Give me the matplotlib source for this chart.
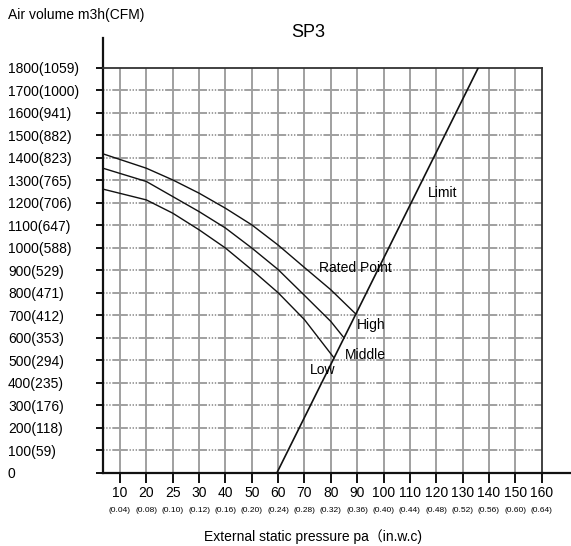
import numpy as np
import matplotlib
matplotlib.use('Agg')
import matplotlib.pyplot as plt
from matplotlib.scale import FuncScale
from matplotlib.transforms import blended_transform_factory

plt.rcParams['font.family'] = ['Liberation Sans', 'Noto Sans CJK SC', 'DejaVu Sans']
plt.rcParams['lines.scale_dashes'] = False

# ---- data ----
pa_ticks = [10, 20, 25, 30, 40, 50, 60, 70, 80, 90, 100, 110, 120, 130, 140, 150, 160]
inwc_labels = ['(0.04)', '(0.08)', '(0.10)', '(0.12)', '(0.16)', '(0.20)', '(0.24)', '(0.28)',
               '(0.32)', '(0.36)', '(0.40)', '(0.44)', '(0.48)', '(0.52)', '(0.56)', '(0.60)', '(0.64)']
flow_ticks = [0, 100, 200, 300, 400, 500, 600, 700, 800, 900, 1000, 1100, 1200, 1300, 1400,
              1500, 1600, 1700, 1800]
flow_labels = ['0', '100(59)', '200(118)', '300(176)', '400(235)', '500(294)', '600(353)',
               '700(412)', '800(471)', '900(529)', '1000(588)', '1100(647)', '1200(706)',
               '1300(765)', '1400(823)', '1500(882)', '1600(941)', '1700(1000)', '1800(1059)']

high_pa = [3.55, 20, 25, 30, 40, 50, 60, 70, 80, 89.5]
high_flow = [1418, 1354, 1302, 1243, 1176, 1102, 1012, 912, 813, 705]
middle_pa = [3.55, 20, 25, 30, 40, 50, 60, 70, 80, 85.0]
middle_flow = [1354, 1295, 1228, 1161, 1088, 999, 903, 788, 672, 599]
low_pa = [3.55, 20, 25, 30, 40, 50, 60, 70, 81.2]
low_flow = [1261, 1213, 1154, 1080, 999, 902, 800, 680, 510]
limit_pa = [59.6, 135.9]
limit_flow = [0, 1800]

# ---- scale: tick labels equally spaced ----
scale_pa = [0] + pa_ticks
scale_pos = list(range(len(scale_pa)))


def fwd(x):
    return np.interp(x, scale_pa, scale_pos)


def inv(x):
    return np.interp(x, scale_pos, scale_pa)


W, H = 571, 546
fig = plt.figure(figsize=(W / 100, H / 100), dpi=100)
x0, x1, y0, y1 = 103, 541.7, 68, 472.5
ax = fig.add_axes([x0 / W, 1 - y1 / H, (x1 - x0) / W, (y1 - y0) / H])
ax.set_xscale(FuncScale(ax, (fwd, inv)))
ax.set_xlim(3.55, 160)
ax.set_ylim(0, 1800)

grid_c = '#a0a0a0'
for p in pa_ticks[:-1]:
    ax.axvline(p, color=grid_c, lw=1.4, zorder=1)
for f in flow_ticks[1:-1]:
    ax.axhline(f, color=grid_c, lw=1.4, zorder=1,
               linestyle=(12.3, (11.2, 1.2, 1.0, 1.2, 1.0, 1.2, 1.0, 1.2)))

lc = '#111111'
ax.plot(high_pa, high_flow, color=lc, lw=1.0, zorder=3)
ax.plot(middle_pa, middle_flow, color=lc, lw=1.0, zorder=3)
ax.plot(low_pa, low_flow, color=lc, lw=1.0, zorder=3)
ax.plot(limit_pa, limit_flow, color=lc, lw=1.2, zorder=3)

tfs = 10
ax.text(116.9, 1245, 'Limit', fontsize=tfs, va='center', ha='left', zorder=4)
ax.text(75.5, 912, 'Rated Point', fontsize=tfs, va='center', ha='left', zorder=4)
ax.text(90.0, 655, 'High', fontsize=tfs, va='center', ha='left', zorder=4)
ax.text(85.4, 523, 'Middle', fontsize=tfs, va='center', ha='left', zorder=4)
ax.text(72.1, 456, 'Low', fontsize=tfs, va='center', ha='left', zorder=4)

for s in ['left', 'bottom']:
    ax.spines[s].set_linewidth(1.6)
    ax.spines[s].set_color('#111111')
for s in ['top', 'right']:
    ax.spines[s].set_linewidth(1.3)
    ax.spines[s].set_color('#333333')

# axis extensions
ax.plot([0, 0], [1, 1 + (y0 - 38) / (y1 - y0)], transform=ax.transAxes, color='#111111',
        lw=1.6, clip_on=False)
ax.plot([1, 1 + (570 - x1) / (x1 - x0)], [0, 0], transform=ax.transAxes, color='#111111',
        lw=1.6, clip_on=False)

ax.set_xticks(pa_ticks)
ax.set_xticklabels([str(p) for p in pa_ticks], fontsize=10)
ax.xaxis.set_minor_locator(matplotlib.ticker.NullLocator())
ax.tick_params(axis='x', direction='out', length=7, width=1.4, pad=3, color='#111111')

ax.set_yticks(flow_ticks)
ax.set_yticklabels(flow_labels, fontsize=10)
ytl = 5
ax.tick_params(axis='y', direction='out', length=ytl, width=1.4, color='#111111',
               pad=(x0 - 8) / (100 / 72) - ytl)
for lab in ax.get_yticklabels():
    lab.set_horizontalalignment('left')

tr = blended_transform_factory(ax.transData, ax.transAxes)
for p, lab in zip(pa_ticks, inwc_labels):
    ax.text(p, -(510 - y1) / (y1 - y0), lab, transform=tr, fontsize=6, ha='center',
            va='center')

fig.text(308 / W, 1 - 32.5 / H, 'SP3', fontsize=13, ha='center', va='center')
fig.text(8 / W, 1 - 15.5 / H, 'Air volume m3h(CFM)', fontsize=10, ha='left', va='center')
fig.text(313 / W, 1 - 536.5 / H, 'External static pressure pa（in.w.c)', fontsize=10,
         ha='center', va='center')

fig.savefig('out.png', dpi=100)
